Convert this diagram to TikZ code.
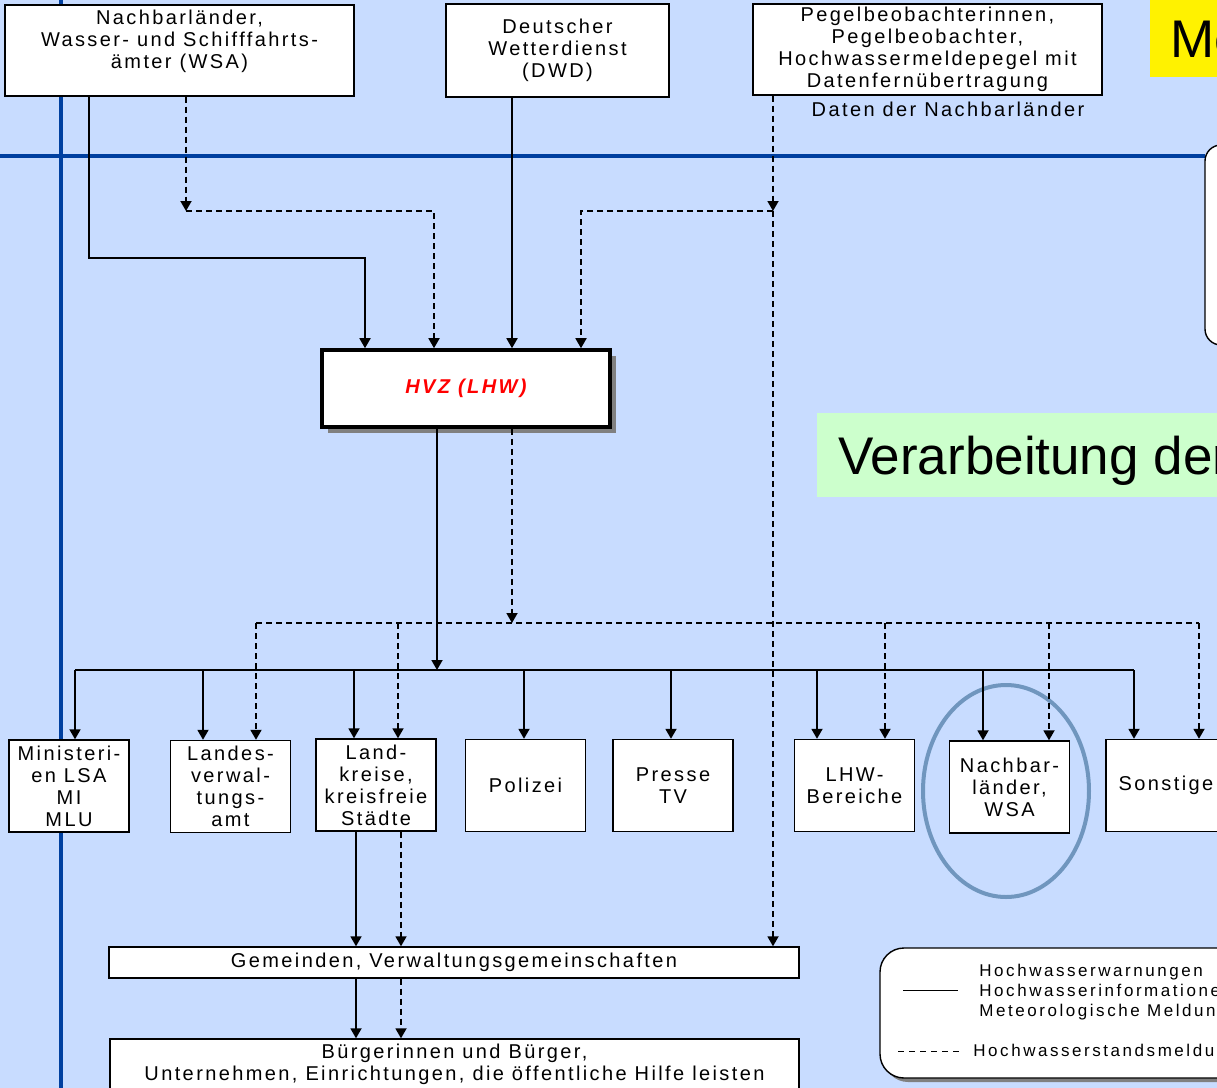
\documentclass[tikz,border=0pt]{standalone}
\usepackage{fontspec}
\setmainfont{Liberation Sans}
\newfontfamily\boxfont{Liberation Sans}[LetterSpace=12]
\newfontfamily\legfont{Liberation Sans}[LetterSpace=15]
\usetikzlibrary{arrows.meta,shadows}

\definecolor{hgblau}{RGB}{200,220,255}
\definecolor{linienblau}{RGB}{0,64,160}
\definecolor{kreisblau}{RGB}{112,150,190}
\definecolor{hellgruen}{RGB}{204,255,204}

\tikzset{
  box/.style={draw, fill=white, line width=0.7pt, align=center, inner sep=0pt,
    font=\boxfont\fontsize{10}{11}\selectfont},
  zielbox/.style={box, minimum width=60pt, minimum height=46pt},
  leitung/.style={line width=0.9pt},
  dleitung/.style={leitung, dash pattern=on 3pt off 2pt},
  conn/.style={leitung, -{Triangle[length=5pt,width=5.5pt]}},
  dconn/.style={conn, dash pattern=on 3pt off 2pt},
  grosstext/.style={anchor=north west, inner ysep=0pt, text depth=0pt,
    font=\fontsize{26.5}{30}\selectfont},
}

\begin{document}
\begin{tikzpicture}[x=0.5pt,y=-0.5pt]
        % \draw[help lines,step=100] (0,0) grid (1217,1088);
        \useasboundingbox (0,0) rectangle (1217,1088);
        \clip (0,0) rectangle (1217,1088);
        \fill[hgblau] (0,0) rectangle (1217,1088);

        % blue frame lines
        \draw[linienblau, line width=2pt] (61,0) -- (61,1088);
        \draw[linienblau, line width=2pt] (0,156) -- (1205,156);

        % boxes on the right border
        \draw[fill=white, line width=0.7pt, rounded corners=8pt] (1205,145) rectangle (1260,345);
        \node[grosstext, fill=yellow, minimum height=38.5pt, inner xsep=10pt] (titel) at (1150,0) {Me};
        \node[grosstext, fill=hellgruen, minimum height=42pt, inner xsep=10.5pt] (verarb) at (817,413) {Verarbeitung der};

        % senders
        \node[box, minimum width=174.5pt, minimum height=45.5pt] (nachbar) at (179.5,50.5) {Nachbarländer,\\Wasser- und Schifffahrts-\\ämter (WSA)\\~};
        \node[box, minimum width=111.5pt, minimum height=46.5pt] (dwd) at (557.5,50.5) {Deutscher\\Wetterdienst\\(DWD)};
        \node[box, minimum width=174.5pt, minimum height=45.5pt] (pegel) at (927.5,49.5) {Pegelbeobachterinnen,\\Pegelbeobachter,\\Hochwassermeldepegel mit\\Datenfernübertragung};
        \node[font=\boxfont\fontsize{10}{11}\selectfont, inner sep=0pt] (daten) at (948,109) {Daten der Nachbarländer};

        \node[box, line width=1.8pt, minimum width=144pt, minimum height=38.5pt, text=red,
          font=\boxfont\fontsize{10}{12}\selectfont\bfseries\itshape,
          drop shadow={shadow xshift=3pt, shadow yshift=-3pt, fill=black!50, opacity=1}] (hvz) at (466,388.5) {HVZ (LHW)};

        % receivers
        \node[zielbox] (mini) at (69,786) {Ministeri-\\en LSA\\MI\\MLU};
        \node[zielbox] (landes) at (230.5,786.5) {Landes-\\verwal-\\tungs-\\amt};
        \node[zielbox] (kreise) at (376,785) {Land-\\kreise,\\kreisfreie\\Städte};
        \node[zielbox] (polizei) at (525.5,785.5) {Polizei};
        \node[zielbox] (presse) at (673,785.5) {Presse\\TV};
        \node[zielbox] (lhw) at (854.5,785.5) {LHW-\\Bereiche};
        \node[zielbox] (nbl) at (1009.5,787) {Nachbar-\\länder,\\WSA};
        \node[zielbox] (sonst) at (1166,785.5) {Sonstige};

        \node[box, minimum width=345pt, minimum height=15.5pt] (gemeinden) at (454,962.5) {Gemeinden, Verwaltungsgemeinschaften};
        \node[box, minimum width=344.5pt, minimum height=25pt] (buerger) at (454.5,1064) {Bürgerinnen und Bürger,\\Unternehmen, Einrichtungen, die öffentliche Hilfe leisten};

        \draw[kreisblau, line width=2pt] (1006,791) ellipse [x radius=41.5pt, y radius=53pt];

        % bends
        \coordinate (k1) at (89,258);
        \coordinate (k2) at (365,258);
        \coordinate (k3) at (186,211);
        \coordinate (k4) at (434,211);
        \coordinate (k5) at (512,300);
        \coordinate (k6) at (581,211);
        \coordinate (k7) at (773,211);
        \coordinate (bus) at (437,670);
        \coordinate (dbus) at (512,623);
        \coordinate (g1) at (356,900);
        \coordinate (g2) at (401,900);

        % senders to HVZ
        \draw[conn] (nachbar.south -| k1) |- (k2) -- (k2 |- hvz.north);
        \draw[dconn] (nachbar.south -| k3) -- (k3);
        \draw[dconn] (k3) -- (k4) -- (k4 |- hvz.north);
        \draw[conn] (dwd.south -| k5) -- (k5 |- hvz.north);
        \draw[dconn] (pegel.south -| k7) -- (k7);
        \draw[dconn] (k7) -- (k6) -- (k6 |- hvz.north);

        % Pegel data straight to Gemeinden
        \draw[dconn] (k7) -- (k7 |- gemeinden.north);

        % HVZ to receivers
        \draw[conn] (hvz.south -| bus) -- (bus);
        \draw[leitung] (75,670) -- (1134,670);
        \foreach \ziel/\x in {mini/75, landes/203, kreise/354, polizei/524, presse/671, lhw/817, nbl/983, sonst/1134} {
          \coordinate (d) at (\x,670);
          \draw[conn] (d) -- (d |- \ziel.north);
        }
        \draw[dconn] (hvz.south -| dbus) -- (dbus);
        \draw[dleitung] (256,623) -- (1199,623);
        \foreach \ziel/\x in {landes/256, kreise/398, lhw/885, nbl/1049, sonst/1199} {
          \coordinate (d) at (\x,623);
          \draw[dconn] (d) -- (d |- \ziel.north);
        }

        % Landkreise to Gemeinden to Buerger
        \draw[conn] (kreise.south -| g1) -- (g1 |- gemeinden.north);
        \draw[dconn] (kreise.south -| g2) -- (g2 |- gemeinden.north);
        \draw[conn] (gemeinden.south -| g1) -- (g1 |- buerger.north);
        \draw[dconn] (gemeinden.south -| g2) -- (g2 |- buerger.north);

        % legend
        \fill[black!50, rounded corners=12pt] (884,953) rectangle (1300,1082);
        \draw[fill=white, line width=0.7pt, rounded corners=12pt] (880,948) rectangle (1300,1078);
        \draw[line width=0.5pt] (903,990) -- (958,990);
        \draw[line width=0.5pt, dash pattern=on 3pt off 2.5pt] (898,1051) -- (962,1051);
        \node[anchor=west, align=left, inner sep=0pt, font=\legfont\fontsize{8.5}{10}\selectfont] (leg1) at (979,992) {Hochwasserwarnungen\\Hochwasserinformationen\\Meteorologische Meldungen};
        \node[anchor=west, inner sep=0pt, font=\legfont\fontsize{8.5}{10}\selectfont] (leg2) at (973,1052) {Hochwasserstandsmeldungen};

      \end{tikzpicture}
\end{document}
